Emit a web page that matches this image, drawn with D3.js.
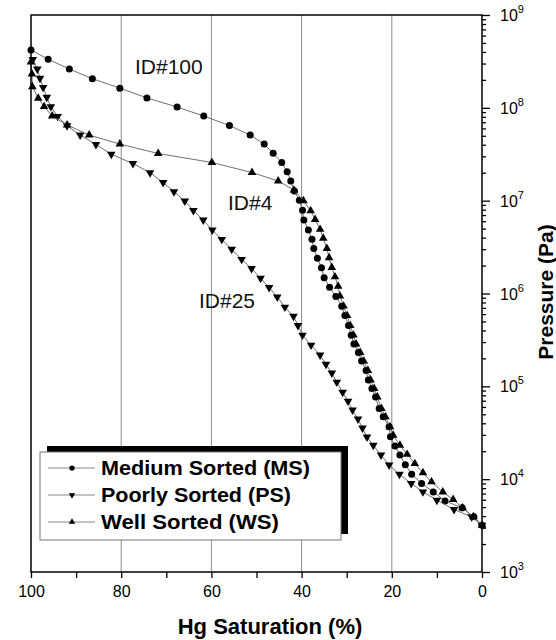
<!DOCTYPE html>
<html>
<head>
<meta charset="utf-8">
<script src="https://cdn.jsdelivr.net/npm/d3@7/dist/d3.min.js"></script>
<style>
  html, body { margin: 0; padding: 0; background: #fff; }
  svg { display: block; font-family: "Liberation Sans", Arial, sans-serif; }
</style>
</head>
<body>
<svg id="chart" width="556" height="640"></svg>
<script>
// Mercury intrusion capillary pressure curves: Hg saturation (%) vs pressure (Pa)
const msSat = [100, 96.2, 91.5, 86.4, 80.3, 74.3, 67.6, 61.7, 56.0, 51.4, 48.3, 46.3, 44.4, 43.2, 42.4, 41.6, 40.5,
  39.8, 39.5, 38.5, 37.7, 37.3, 36.5, 35.6, 35.0, 33.8, 32.4, 31.1, 30.4, 29.6, 29.0, 28.4, 27.4, 26.7, 25.7, 25.2,
  24.4, 23.6, 22.8, 21.9, 20.6, 20.3, 19.3, 18.2, 17.0, 15.6, 13.4, 10.8, 8.2, 4.4, 1.8, 0];
const msPres = [4.20e8, 3.33e8, 2.62e8, 2.06e8, 1.63e8, 1.28e8, 1.02e8, 8.16e7, 6.44e7, 5.09e7, 4.07e7, 3.24e7, 2.58e7,
  2.05e7, 1.63e7, 1.27e7, 1.01e7, 7.86e6, 6.18e6, 4.82e6, 3.83e6, 3.06e6, 2.39e6, 1.89e6, 1.48e6, 1.17e6, 9.27e5,
  7.31e5, 5.78e5, 4.51e5, 3.56e5, 2.85e5, 2.32e5, 1.87e5, 1.48e5, 1.17e5, 9.49e4, 7.66e4, 5.78e4, 4.69e4, 3.66e4,
  2.86e4, 2.27e4, 1.82e4, 1.43e4, 1.13e4, 9.00e3, 7.29e3, 5.83e3, 4.91e3, 3.93e3, 3.19e3];

const psSat = [99.6, 98.6, 98.0, 97.3, 96.5, 95.6, 94.1, 92.0, 89.1, 85.6, 82.2, 77.4, 73.6, 70.7, 68.3, 65.9, 64.0,
  61.8, 59.8, 57.7, 55.5, 53.3, 51.1, 49.1, 47.2, 45.4, 43.7, 41.8, 40.8, 39.8, 37.9, 35.9, 34.6, 33.3, 32.2, 30.9,
  29.7, 28.7, 27.5, 26.5, 25.5, 24.1, 22.4, 20.6, 18.3, 15.7, 13.1, 10.0, 6.2, 2.3, 0];
const psPres = [3.31e8, 2.62e8, 2.08e8, 1.66e8, 1.30e8, 1.03e8, 8.09e7, 6.40e7, 5.09e7, 4.03e7, 3.16e7, 2.51e7, 2.00e7,
  1.57e7, 1.25e7, 9.90e6, 7.82e6, 6.18e6, 4.82e6, 3.83e6, 2.99e6, 2.33e6, 1.86e6, 1.46e6, 1.16e6, 9.15e5, 7.13e5,
  5.70e5, 4.51e5, 3.56e5, 2.78e5, 2.17e5, 1.73e5, 1.39e5, 1.11e5, 8.65e4, 6.93e4, 5.55e4, 4.44e4, 3.55e4, 2.84e4,
  2.32e4, 1.82e4, 1.42e4, 1.13e4, 9.00e3, 7.29e3, 5.94e3, 4.71e3, 3.93e3, 3.19e3];

const wsSat = [100, 99.8, 99.7, 98.4, 97.1, 95.3, 92.0, 87.1, 80.3, 71.8, 59.9, 51.0, 45.2, 41.7, 39.6, 38.0, 37.0,
  35.9, 35.2, 34.4, 33.9, 33.3, 32.6, 31.9, 31.5, 30.7, 29.9, 29.2, 28.5, 27.9, 27.0, 26.2, 25.3, 24.7, 23.9, 23.2,
  22.3, 21.4, 20.4, 19.7, 18.2, 16.6, 14.9, 13.1, 11.2, 8.7, 6.4, 4.3, 1.9, 0];
const wsPres = [3.12e8, 2.31e8, 1.69e8, 1.27e8, 1.03e8, 8.16e7, 6.53e7, 5.09e7, 4.07e7, 3.22e7, 2.58e7, 2.01e7, 1.63e7,
  1.30e7, 9.98e6, 7.78e6, 6.28e6, 4.91e6, 3.93e6, 3.06e6, 2.43e6, 1.91e6, 1.51e6, 1.20e6, 9.38e5, 7.31e5, 5.78e5,
  4.51e5, 3.56e5, 2.85e5, 2.32e5, 1.87e5, 1.48e5, 1.17e5, 9.49e4, 7.66e4, 5.78e4, 4.69e4, 3.66e4, 2.98e4, 2.32e4,
  1.85e4, 1.47e4, 1.17e4, 9.35e3, 7.29e3, 6.04e3, 4.91e3, 3.93e3, 3.19e3];

const seriesNames = ["Medium Sorted (MS)", "Poorly Sorted (PS)", "Well Sorted (WS)"];
const sampleLabels = ["ID#100", "ID#25", "ID#4"];
const xMajorTicks = [100, 80, 60, 40, 20, 0];
const xMinorTicks = [90, 70, 50, 30, 10];
const gridTicks = [80, 60, 40, 20];
const yExponents = [3, 4, 5, 6, 7, 8, 9];

const svg = d3.select("#chart");
const plotLeft = 31, plotRight = 482, plotTop = 15, plotBottom = 572;

const x = d3.scaleLinear().domain([100, 0]).range([plotLeft, plotRight]);
const y = d3.scaleLog().domain([1e3, 1e9]).range([plotBottom, plotTop]);

// vertical grid lines
svg.append("g").selectAll("line").data(gridTicks).join("line")
  .attr("x1", d => x(d)).attr("x2", d => x(d))
  .attr("y1", plotTop).attr("y2", plotBottom)
  .attr("stroke", "#8c8c8c").attr("stroke-width", 1);

// series
const series = [
  { sat: msSat, pres: msPres, marker: "circle" },
  { sat: psSat, pres: psPres, marker: "down" },
  { sat: wsSat, pres: wsPres, marker: "up" }
];

const line = d3.line().x(d => x(d[0])).y(d => y(d[1]));

function drawMarker(g, kind, cx, cy, scale) {
  const s = scale || 1;
  if (kind === "circle") {
    g.append("circle").attr("cx", cx).attr("cy", cy).attr("r", 3.5 * s).attr("fill", "#000");
  } else {
    g.append("path")
      .attr("d", d3.symbol().type(d3.symbolTriangle).size(32 * s * s)())
      .attr("transform", `translate(${cx},${cy})` + (kind === "down" ? " rotate(180)" : ""))
      .attr("fill", "#000");
  }
}

series.forEach(s => {
  const pts = s.sat.map((v, i) => [v, s.pres[i]]);
  svg.append("path").datum(pts).attr("d", line)
    .attr("fill", "none").attr("stroke", "#707070").attr("stroke-width", 1);
  const g = svg.append("g");
  pts.forEach(p => drawMarker(g, s.marker, x(p[0]), y(p[1])));
});

// plot frame
svg.append("rect").attr("x", plotLeft).attr("y", plotTop)
  .attr("width", plotRight - plotLeft).attr("height", plotBottom - plotTop)
  .attr("fill", "none").attr("stroke", "#000").attr("stroke-width", 1.5);

// bottom axis
const xAxis = svg.append("g").attr("transform", `translate(0,${plotBottom})`)
  .call(d3.axisBottom(x).tickValues(xMajorTicks).tickSize(6).tickFormat(d3.format("d")));
svg.append("g").attr("transform", `translate(0,${plotBottom})`)
  .call(d3.axisBottom(x).tickValues(xMinorTicks).tickSize(6).tickFormat(""));
svg.selectAll(".domain").remove();
xAxis.selectAll("text").attr("font-size", 16).attr("fill", "#000")
  .attr("font-family", "Liberation Sans, Arial, sans-serif").attr("dy", "1.0em");

// right axis: majors at decades, minors at 2..9
const minorVals = [];
yExponents.slice(0, -1).forEach(e => { for (let k = 2; k <= 9; k++) minorVals.push(k * Math.pow(10, e)); });
const majorVals = yExponents.map(e => Math.pow(10, e));
const yMaj = svg.append("g").attr("transform", `translate(${plotRight},0)`)
  .call(d3.axisRight(y).tickValues(majorVals).tickSize(8).tickFormat(""));
const yMin = svg.append("g").attr("transform", `translate(${plotRight},0)`)
  .call(d3.axisRight(y).tickValues(minorVals).tickSize(4).tickFormat(""));
yMaj.select(".domain").remove();
yMin.select(".domain").remove();
svg.selectAll(".tick line").attr("stroke", "#000").attr("stroke-width", 1.3);

const yLab = svg.append("g");
yExponents.forEach(e => {
  const t = yLab.append("text").attr("x", plotRight + 18).attr("y", y(Math.pow(10, e)) + 6)
    .attr("font-size", 16).attr("fill", "#000");
  t.append("tspan").text("10");
  t.append("tspan").attr("dy", -8).attr("font-size", 11).text(e);
});

// axis titles
svg.append("text").attr("x", 270).attr("y", 634).attr("text-anchor", "middle")
  .attr("font-size", 22).attr("font-weight", "bold").text("Hg Saturation (%)");
svg.append("text").attr("transform", "translate(553,292) rotate(-90)").attr("text-anchor", "middle")
  .attr("font-size", 21).attr("font-weight", "bold").text("Pressure (Pa)");

// curve annotations
const annot = [
  { t: sampleLabels[0], x: 135, y: 74 },
  { t: sampleLabels[1], x: 199, y: 308 },
  { t: sampleLabels[2], x: 228, y: 210 }
];
svg.append("g").selectAll("text").data(annot).join("text")
  .attr("x", d => d.x).attr("y", d => d.y).attr("font-size", 21).attr("fill", "#111").text(d => d.t);

// legend with offset dark shadow
const lg = svg.append("g");
lg.append("rect").attr("x", 47).attr("y", 446).attr("width", 301).attr("height", 88).attr("fill", "#000");
lg.append("rect").attr("x", 40).attr("y", 452).attr("width", 301).attr("height", 88)
  .attr("fill", "#fff").attr("stroke", "#777").attr("stroke-width", 1);
const legendMarkers = ["circle", "down", "up"];
const legendWidths = [209, 190, 178];
seriesNames.forEach((name, i) => {
  const cy = 468 + i * 27;
  lg.append("line").attr("x1", 48).attr("x2", 95).attr("y1", cy).attr("y2", cy)
    .attr("stroke", "#888").attr("stroke-width", 1);
  drawMarker(lg, legendMarkers[i], 72, cy, 0.75);
  lg.append("text").attr("x", 101).attr("y", cy + 7).attr("font-size", 20)
    .attr("font-weight", "bold").attr("fill", "#000")
    .attr("textLength", legendWidths[i]).attr("lengthAdjust", "spacingAndGlyphs").text(name);
});
</script>
</body>
</html>
